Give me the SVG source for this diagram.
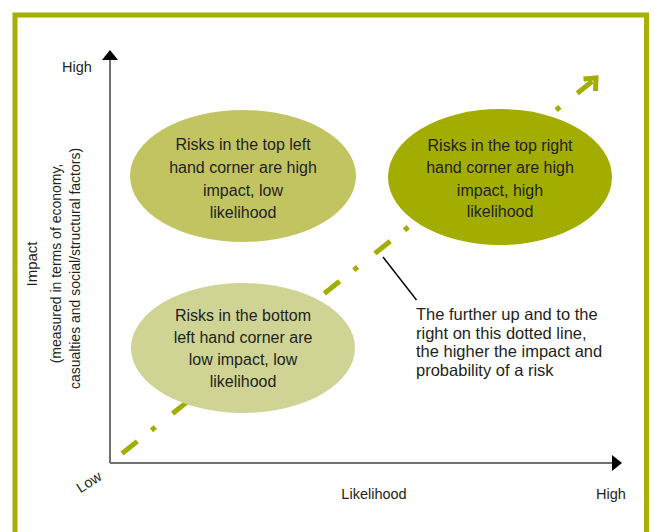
<svg xmlns="http://www.w3.org/2000/svg" width="654" height="532" viewBox="0 0 654 532">
<style>
text{font-family:"Liberation Sans",Arial,sans-serif;fill:#231f20}
.lbl{font-size:16px;text-anchor:middle}
.ax{font-size:14.5px}
.axis{stroke:#707070;stroke-width:2;fill:none}
.trend{stroke:#a3ad00;stroke-width:5;fill:none}
</style>
<rect x="0" y="0" width="654" height="532" fill="#ffffff"/>
<rect x="15" y="15" width="631.5" height="540" fill="none" stroke="#a5b000" stroke-width="5"/>
<g id="connectors">
  <line class="axis" x1="110" y1="463" x2="110" y2="58"/>
  <polygon points="110,50 102,60 118,60" fill="#000"/>
  <line class="axis" x1="110" y1="463" x2="614" y2="463"/>
  <polygon points="622,463 612,455 612,471" fill="#000"/>
  <path class="trend" d="M122,453.5 L592.3,81.4" stroke-dasharray="19.5 18 5 22"/>
  <polyline class="trend" points="583.5,79 596,78 595.5,91" stroke-width="4.5" stroke-linejoin="miter"/>
  <line x1="383" y1="257" x2="416.5" y2="300" stroke="#000" stroke-width="1.4"/>
</g>
<g id="node-top-left">
  <ellipse cx="243" cy="176" rx="113" ry="66" fill="#c2c462"/>
  <text class="lbl" x="243" y="150">Risks in the top left</text>
  <text class="lbl" x="243" y="173">hand corner are high</text>
  <text class="lbl" x="243" y="196">impact, low</text>
  <text class="lbl" x="243" y="218">likelihood</text>
</g>
<g id="node-top-right">
  <ellipse cx="500" cy="177" rx="112" ry="68" fill="#a3ad00"/>
  <text class="lbl" x="500" y="150.5">Risks in the top right</text>
  <text class="lbl" x="500" y="173">hand corner are high</text>
  <text class="lbl" x="500" y="195.5">impact, high</text>
  <text class="lbl" x="500" y="217">likelihood</text>
</g>
<g id="node-bottom-left">
  <ellipse cx="243" cy="348" rx="112" ry="65" fill="#cfd495"/>
  <text class="lbl" x="243" y="320.5">Risks in the bottom</text>
  <text class="lbl" x="243" y="343">left hand corner are</text>
  <text class="lbl" x="243" y="365">low impact, low</text>
  <text class="lbl" x="243" y="387">likelihood</text>
</g>
<g id="note">
  <text font-size="16.5" x="416" y="320">The further up and to the</text>
  <text font-size="16.5" x="416" y="338.5">right on this dotted line,</text>
  <text font-size="16.5" x="416" y="357">the higher the impact and</text>
  <text font-size="16.5" x="416" y="375.5">probability of a risk</text>
</g>
<g id="axis-labels">
  <text class="ax" x="62" y="72">High</text>
  <text class="ax" x="89" y="487" text-anchor="middle" transform="rotate(-33 89 482)">Low</text>
  <text class="ax" x="374" y="499" text-anchor="middle">Likelihood</text>
  <text class="ax" x="596" y="499">High</text>
  <text font-size="15" x="37" y="264" text-anchor="middle" transform="rotate(-90 37 264)">Impact</text>
  <text font-size="14" x="60.5" y="263.5" text-anchor="middle" transform="rotate(-90 60.5 263.5)">(measured in terms of economy,</text>
  <text font-size="14" x="80" y="268.5" text-anchor="middle" transform="rotate(-90 80 268.5)">casualties and social/structural factors)</text>
</g>
</svg>
